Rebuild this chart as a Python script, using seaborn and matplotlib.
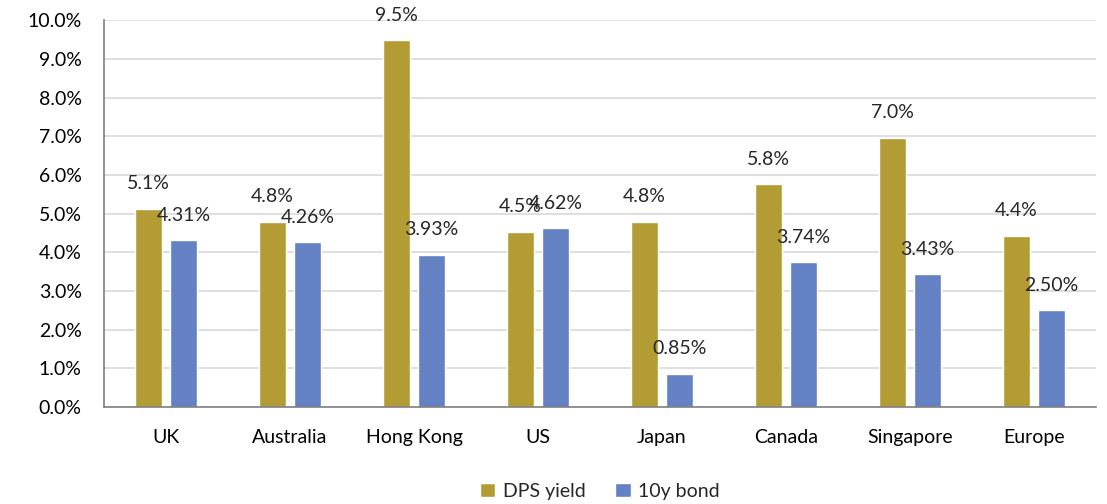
import matplotlib
matplotlib.use("Agg")
import matplotlib.pyplot as plt
import seaborn as sns
import pandas as pd
from matplotlib.ticker import PercentFormatter, MultipleLocator

categories = ["UK", "Australia", "Hong Kong", "US", "Japan", "Canada", "Singapore", "Europe"]
dps_yield = [5.12, 4.78, 9.48, 4.52, 4.79, 5.76, 6.95, 4.42]
bond_10y = [4.31, 4.26, 3.93, 4.62, 0.85, 3.74, 3.43, 2.50]
series_names = ["DPS yield", "10y bond"]
colors = ["#B39C33", "#6381C3"]

df = pd.DataFrame({
    "country": categories * 2,
    "series": [series_names[0]] * len(categories) + [series_names[1]] * len(categories),
    "value": dps_yield + bond_10y,
})

sns.set_theme(style="white")
plt.rcParams["font.family"] = ["Lato", "DejaVu Sans"]

fig = plt.figure(figsize=(11.07, 5.04), dpi=100)
ax = fig.add_axes([0.094, 0.1925, 0.896, 0.7675])

sns.barplot(data=df, x="country", y="value", hue="series", order=categories,
            hue_order=series_names, palette=colors, width=0.564, gap=0.22,
            saturation=1, ax=ax, legend=True)

ax.set_ylim(0, 10)
ax.yaxis.set_major_locator(MultipleLocator(1))
ax.yaxis.set_major_formatter(PercentFormatter(decimals=1))
ax.grid(axis="y", color="#D9D9D9", linewidth=1.2)
ax.set_axisbelow(True)
ax.set_xlim(-0.5, len(categories) - 0.5)
ax.set_xlabel("")
ax.set_ylabel("")
for s in ["top", "right"]:
    ax.spines[s].set_visible(False)
for s in ["left", "bottom"]:
    ax.spines[s].set_color("#7F7F7F")
    ax.spines[s].set_linewidth(1.2)
ax.tick_params(axis="both", labelsize=14, colors="#000000", length=0)
ax.tick_params(axis="x", pad=16)
ax.tick_params(axis="y", pad=16)

ax.bar_label(ax.containers[0], labels=[f"{v:.1f}%" for v in dps_yield], padding=12, fontsize=14)
ax.bar_label(ax.containers[1], labels=[f"{v:.2f}%" for v in bond_10y], padding=12, fontsize=14)

handles, labels = ax.get_legend_handles_labels()
ax.legend(handles, labels, loc="lower center", bbox_to_anchor=(0.5, -0.285), ncol=2,
          frameon=False, fontsize=14, handlelength=0.8, handleheight=0.8,
          handletextpad=0.4, columnspacing=1.5)

fig.savefig("out.png", dpi=100)
